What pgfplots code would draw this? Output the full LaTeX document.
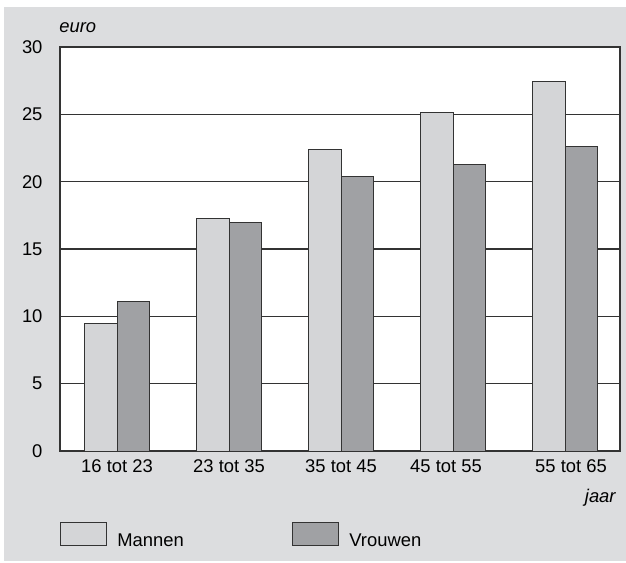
\documentclass[border=0pt]{standalone}
\usepackage{pgfplots}
\pgfplotsset{compat=1.18}
\usepackage{fontspec}
\setmainfont{Liberation Sans}
\definecolor{bggrey}{HTML}{DCDDDF}
\definecolor{mannen}{HTML}{D4D5D7}
\definecolor{vrouwen}{HTML}{A0A1A4}
\definecolor{edge}{HTML}{333333}
\begin{document}
\fontsize{9.2pt}{11pt}\selectfont
\begin{tikzpicture}
\path[use as bounding box] (0pt,0pt) rectangle (313pt,281pt);
\fill[bggrey] (2pt,0.5pt) rectangle (313pt,277.5pt);
\begin{axis}[
  at={(30pt,55.5pt)}, anchor=south west,
  scale only axis,
  width=280pt, height=202pt,
  axis background/.style={fill=white},
  axis line style={edge, line width=0.7pt},
  ybar=0pt,
  bar width=0.286,
  xmin=-0.509, xmax=4.491,
  ymin=0, ymax=30,
  ytick={0,5,...,30},
  xtick={0,1,2,3,4},
  xticklabels={16 tot 23, 23 tot 35, 35 tot 45, 45 tot 55\hspace*{7pt}, \hspace*{6pt}55 tot 65},
  major tick length=0pt,
  ymajorgrids=true,
  grid style={edge, line width=0.6pt},
  ticklabel style={font=\fontsize{9.2pt}{11pt}\selectfont},
  /pgf/number format/assume math mode=true,
  yticklabel style={xshift=-5.5pt},
  xticklabel style={yshift=-1pt},
  legend style={at={(0,-0.209)}, anchor=west, draw=none, fill=none,
    inner sep=0pt, legend columns=2,
    nodes={inner sep=0pt, font=\fontsize{9.2pt}{11pt}\selectfont}},
  legend image code/.code={\draw[#1, bar shift=0pt] (0pt,-2pt) rectangle (23pt,9.5pt); \path (28pt,0pt);},
  clip=false,
]
\addplot[draw=edge, fill=mannen, line width=0.5pt]
  coordinates {(0,9.5) (1,17.3) (2,22.4) (3,25.1) (4,27.45)};
\addplot[draw=edge, fill=vrouwen, line width=0.5pt]
  coordinates {(0,11.1) (1,17.0) (2,20.4) (3,21.3) (4,22.6)};
\legend{\makebox[87.5pt][l]{Mannen}, Vrouwen}
\end{axis}
\node[anchor=base west, inner sep=0pt] at (29.5pt,264.5pt) {\itshape euro};
\node[anchor=base east, inner sep=0pt] at (308pt,30pt) {\itshape jaar};
\end{tikzpicture}
\end{document}
